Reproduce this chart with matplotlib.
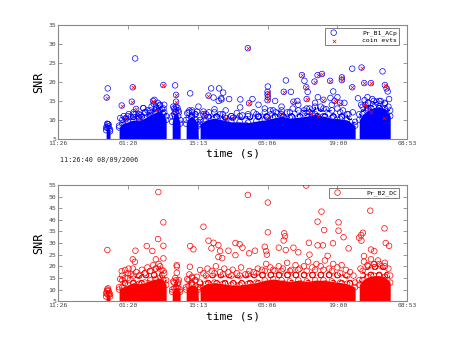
import numpy as np
import matplotlib.pyplot as plt

plt.rcParams['hatch.linewidth'] = 0.6

# time axis: seconds since 11:26:40 08/09/2006
xticks = [0, 50000, 100000, 150000, 200000, 250000]
xtick_labels = ['11:26', '01:20', '15:13', '05:06', '19:00', '08:53']

# running segments (start/end of each data block)
seg_t = [
    [34400, 35200, 36200, 37200],
    [43700, 46000, 50000, 54000, 58000, 62000, 66000, 70000, 73000, 75500, 77400],
    [81700, 83000, 84500, 86000, 87400],
    [91700, 93500, 96000, 98500, 100300],
    [101700, 106000, 112000, 118000, 124000, 130000, 136000, 142000, 148000, 154000,
     160000, 166000, 172000, 178000, 184000, 190000, 196000, 202000, 207000, 212700],
    [215600, 218000, 222000, 226000, 230000, 234000, 237800],
]
# top of the solid core and of the dense fringe above it, B1 panel
b1_core = [
    [7.3, 8.0, 7.8, 7.0],
    [8.0, 9.0, 9.5, 10.0, 9.8, 10.5, 11.3, 12.0, 12.5, 11.5, 10.0],
    [9.5, 11.5, 12.0, 11.0, 9.0],
    [9.0, 10.5, 11.0, 10.0, 8.5],
    [9.0, 10.0, 10.5, 10.0, 9.5, 9.5, 9.3, 9.7, 10.0, 10.5,
     11.0, 10.5, 10.7, 11.0, 11.5, 11.0, 10.5, 10.3, 10.0, 8.5],
    [10.0, 11.5, 12.5, 13.3, 13.5, 13.0, 11.0],
]
b1_fringe = [
    [8.0, 9.0, 8.8, 7.5],
    [8.5, 10.0, 11.0, 11.5, 11.5, 12.0, 12.5, 13.5, 14.0, 13.0, 11.0],
    [11.0, 13.0, 13.5, 12.5, 10.0],
    [10.0, 12.0, 12.5, 11.5, 9.5],
    [10.0, 11.5, 12.0, 11.5, 11.0, 11.0, 11.0, 11.5, 12.0, 12.5,
     12.5, 12.0, 12.5, 13.0, 13.5, 13.0, 12.5, 12.0, 11.5, 9.5],
    [11.5, 13.5, 14.5, 15.0, 15.0, 14.5, 12.5],
]
b2_core = [
    [7.0, 8.0, 7.7, 7.0],
    [10.0, 11.0, 12.0, 13.0, 12.5, 13.0, 14.0, 14.5, 15.0, 14.0, 12.0],
    [9.0, 10.5, 11.0, 10.5, 9.0],
    [10.0, 11.5, 12.0, 11.5, 10.0],
    [11.0, 12.5, 13.0, 12.5, 12.0, 12.0, 12.5, 13.0, 14.0, 14.5,
     14.0, 13.5, 14.0, 13.5, 14.0, 14.0, 13.5, 13.0, 12.5, 11.0],
    [12.0, 14.0, 15.5, 16.0, 16.0, 15.5, 13.0],
]
b2_fringe = [
    [8.5, 10.0, 9.5, 8.0],
    [11.0, 14.0, 15.0, 16.0, 16.0, 17.0, 18.0, 19.0, 20.0, 18.0, 14.0],
    [10.0, 13.0, 14.0, 13.0, 10.0],
    [11.0, 14.0, 15.0, 14.0, 11.0],
    [13.0, 16.0, 17.0, 16.5, 16.0, 16.0, 16.5, 17.0, 18.0, 18.5,
     18.0, 18.0, 18.5, 18.0, 18.5, 18.5, 18.0, 17.0, 16.0, 13.0],
    [14.0, 18.0, 20.0, 21.0, 21.0, 20.0, 16.0],
]

# Pr_B1_ACp triggers above the dense core
b1_t = [35600, 36000, 44500, 47000, 48500, 50500, 52000, 54000, 55500, 57500, 59000,
        61000, 62500, 64000, 65500, 67000, 68500, 70000, 71500, 73000, 74500, 76000,
        82500, 84000, 85500, 86500, 92500, 94000, 96000, 98000, 99500,
        104000, 108000, 112000, 116000, 120000, 124000, 128000, 132000, 136000, 140000,
        144000, 148000, 152000, 156000, 160000, 164000, 168000, 172000, 176000, 180000,
        184000, 188000, 192000, 196000, 200000, 204000, 208000, 211000,
        217000, 219500, 222000, 225000, 228000, 231000, 234000, 236500,
        35600, 55200, 83800, 94600, 109600, 115300, 116800, 111300, 61100, 69000,
        163100, 210600, 232300, 150200, 155400, 139200, 130400, 122500, 118200, 117000,
        115000, 130500, 143500, 166700, 171300, 176400, 178700, 186000, 195000, 205000,
        214700, 221500, 236000, 237000, 76000, 100500, 197000, 200000]
b1_snr = [8.9, 8.3, 10.5, 11.0, 10.2, 11.5, 10.8, 12.0, 11.5, 10.9, 11.3,
          13.1, 12.0, 12.5, 11.8, 13.5, 14.2, 13.0, 14.5, 13.8, 12.8, 12.0,
          13.5, 12.8, 13.2, 12.0, 11.8, 12.5, 12.0, 11.5, 12.2,
          11.5, 12.0, 12.8, 11.5, 12.5, 11.0, 11.8, 11.2, 11.5, 12.0,
          11.0, 13.0, 12.5, 12.0, 13.5, 12.0, 13.0, 14.0, 12.5, 13.0,
          14.5, 13.5, 12.8, 14.0, 13.0, 12.5, 11.5, 12.0,
          14.0, 15.2, 14.5, 15.5, 14.8, 15.0, 14.3, 13.5,
          18.3, 26.2, 19.1, 17.0, 18.3, 18.3, 15.7, 15.9, 13.1, 15.3,
          20.4, 23.5, 22.8, 18.8, 15.0, 15.5, 13.3, 15.5, 17.2, 15.4,
          15.0, 15.4, 14.0, 17.4, 15.0, 20.3, 17.4, 16.0, 15.8, 14.5,
          15.7, 16.0, 17.5, 15.5, 14.0, 13.5, 17.5, 16.0]

# coincident events
coin_t = [34800, 45600, 52800, 53500, 55900, 48500, 58000, 68000, 75400, 70000,
          84500, 84500, 84000, 104100, 107700, 135900, 136800, 150000, 150000, 150200,
          150000, 161600, 168500, 174600, 177700, 183600, 185800, 188900, 194800, 203200,
          203200, 210600, 217300, 219200, 224000, 234000, 235200, 178000, 190000, 198000,
          202000, 220000, 222000, 224000, 233000, 180000, 182000, 186000, 150000, 160000,
          120000, 125000, 105000]
coin_snr = [15.9, 13.8, 14.8, 18.6, 12.9, 10.5, 10.5, 15.0, 19.2, 12.5,
            16.6, 14.8, 12.0, 12.2, 16.4, 28.9, 14.4, 17.4, 16.7, 16.0,
            15.2, 17.4, 14.8, 21.8, 18.6, 20.1, 21.8, 22.1, 20.3, 21.2,
            20.5, 18.6, 23.8, 19.7, 19.7, 19.2, 18.3, 15.5, 15.3, 15.0,
            14.5, 14.0, 13.0, 12.0, 10.4, 12.0, 11.5, 11.0, 10.8, 11.5,
            10.5, 10.5, 11.0]

# Pr_B2_DC triggers above the dense core
b2_t = [35200, 35800, 36500, 44500, 46000, 48000, 50000, 52000, 53500, 56000, 58000,
        60000, 62000, 64000, 66000, 68000, 70000, 72000, 74000, 76000,
        82500, 84000, 85500, 86500, 92500, 94000, 96000, 98000, 99500,
        104000, 107000, 110000, 113000, 116000, 119000, 122000, 125000, 128000, 131000,
        134000, 137000, 140000, 143000, 146000, 149000, 152000, 155000, 158000, 161000,
        164000, 167000, 170000, 173000, 176000, 179000, 182000, 185000, 188000, 191000,
        194000, 197000, 200000, 203000, 206000, 209000, 211500,
        216500, 219000, 221500, 224000, 226500, 229000, 231500, 234000, 236500,
        35300, 71800, 75400, 71600, 75400, 63500, 67500, 55400, 53500, 55000,
        70000, 75400, 45600, 48000, 50500, 85000, 85000, 85000, 94600, 96900,
        94400, 104100, 107700, 111300, 114800, 109800, 116000, 114800, 117500, 101700,
        177600, 135900, 150200, 223500, 188600, 185800, 200800, 190500, 150200, 200800,
        233700, 161900, 204400, 217000, 218200, 215500, 217200, 162500, 161500, 168500,
        179600, 185800, 189600, 196800, 234600, 237000, 208000, 122000, 136800, 127000,
        219000, 224000, 226400, 148000, 149000, 149500, 130000, 132000, 127000, 141000,
        158000, 163000, 172000, 180000, 193000]
b2_snr = [9.5, 10.5, 8.5, 14.5, 16.0, 15.0, 17.0, 16.5, 19.0, 17.5, 16.0,
          18.5, 17.0, 19.5, 18.0, 20.5, 19.0, 21.0, 18.5, 17.0,
          13.5, 15.0, 12.5, 14.0, 14.5, 16.5, 15.5, 14.0, 15.5,
          17.0, 19.0, 18.0, 20.0, 17.5, 19.0, 17.5, 18.5, 17.0, 19.5,
          16.5, 18.0, 17.5, 19.0, 18.5, 21.0, 19.5, 18.0, 20.0, 19.0,
          21.5, 18.5, 20.5, 19.0, 20.0, 22.0, 19.5, 21.0, 20.0, 22.5,
          19.0, 21.0, 19.5, 20.5, 18.5, 17.5, 16.0,
          19.0, 22.0, 20.5, 23.0, 21.0, 22.5, 20.0, 21.5, 19.0,
          27.0, 51.9, 38.9, 31.7, 28.8, 28.7, 26.6, 26.7, 23.0, 21.9,
          23.0, 23.4, 17.9, 18.4, 19.0, 20.5, 19.9, 17.2, 28.7, 27.3,
          19.8, 37.0, 31.0, 30.1, 29.1, 27.7, 26.6, 24.0, 23.5, 18.4,
          54.7, 50.7, 47.4, 43.9, 43.5, 39.2, 38.9, 35.6, 34.6, 35.3,
          36.3, 34.2, 32.5, 33.4, 34.4, 32.3, 31.0, 32.9, 31.1, 28.0,
          30.1, 29.0, 29.0, 29.9, 30.0, 28.8, 27.7, 26.7, 25.6, 24.8,
          24.4, 27.2, 26.5, 28.4, 26.5, 25.0, 29.5, 28.0, 30.0, 26.7,
          28.0, 27.0, 26.0, 25.0, 24.5]

tick_font = {'family': 'DejaVu Sans Mono', 'size': 4.6, 'color': '#444444'}
grey = '#888888'


def style_axes(ax, ymax):
    ax.set_xlim(0, 250000)
    ax.set_ylim(5, ymax)
    ax.set_xticks(xticks)
    ax.set_xticklabels(xtick_labels, fontdict=tick_font)
    ax.set_yticks(np.arange(5, ymax + 1, 5))
    ax.set_yticklabels([str(v) for v in range(5, ymax + 1, 5)], fontdict=tick_font)
    ax.tick_params(direction='in', length=3, width=0.6, color=grey,
                   top=True, right=True, pad=1.5)
    for s in ax.spines.values():
        s.set_color(grey)
        s.set_linewidth(0.8)
    ax.set_xlabel('time (s)', family='DejaVu Sans Mono', fontsize=8, labelpad=2)
    ax.set_ylabel('SNR', family='DejaVu Sans Mono', fontsize=8.5, labelpad=2)


def draw_cores(ax, cores, fringes, color):
    for t, top, fr in zip(seg_t, cores, fringes):
        ax.fill_between(t, top, fr, facecolor='none', edgecolor=color, hatch='OO',
                        lw=0, zorder=2)
        ax.fill_between(t, 5, top, color=color, lw=0, zorder=2)
        ax.scatter(t, top, s=16, facecolors='none', edgecolors=color, lw=0.5, zorder=3)
        ax.scatter(t, fr, s=16, facecolors='none', edgecolors=color, lw=0.5, zorder=3)


fig = plt.figure(figsize=(4.5, 3.38), dpi=100)
ax1 = fig.add_axes([0.129, 0.589, 0.776, 0.337])
ax2 = fig.add_axes([0.129, 0.109, 0.776, 0.344])

draw_cores(ax1, b1_core, b1_fringe, '#0000ff')
ax1.scatter(b1_t + coin_t, b1_snr + coin_snr, s=16, facecolors='none',
            edgecolors='#0000ff', lw=0.5, zorder=3, label='Pr_B1_ACp')
ax1.scatter(coin_t, coin_snr, s=6, marker='x', color='#ff0000', lw=0.5,
            zorder=4, label='coin evts')
style_axes(ax1, 35)
leg1 = ax1.legend(loc='upper right', bbox_to_anchor=(0.977, 0.974),
                  prop={'family': 'DejaVu Sans Mono', 'size': 4.6},
                  fancybox=False, edgecolor='#444444', borderpad=0.3,
                  handletextpad=3.5, labelspacing=0.3, borderaxespad=0)
leg1.get_frame().set_linewidth(0.6)

draw_cores(ax2, b2_core, b2_fringe, '#ff0000')
ax2.scatter(b2_t, b2_snr, s=16, facecolors='none', edgecolors='#ff0000', lw=0.5,
            zorder=3, label='Pr_B2_DC')
style_axes(ax2, 55)
leg2 = ax2.legend(loc='upper right', bbox_to_anchor=(0.977, 0.974),
                  prop={'family': 'DejaVu Sans Mono', 'size': 4.6},
                  fancybox=False, edgecolor='#444444', borderpad=0.3,
                  handletextpad=3.5, borderaxespad=0)
leg2.get_frame().set_linewidth(0.6)

fig.text(0.133, 0.52, '11:26:40 08/09/2006', family='DejaVu Sans Mono', fontsize=4.9,
         color='#222222')

fig.savefig('out.png', dpi=100)
